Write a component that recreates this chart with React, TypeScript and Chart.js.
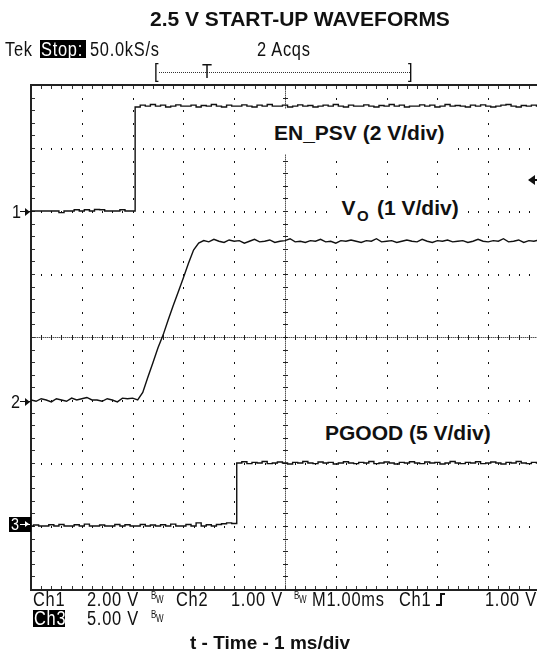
import React, { useEffect, useRef } from "react";
import { Chart, registerables } from "chart.js";

Chart.register(...registerables);

// ---- data -------------------------------------------------------------
const TIME_MS = [0,0.1,0.2,0.3,0.4,0.5,0.6,0.7,0.8,0.9,1,1.1,1.2,1.3,1.4,1.5,1.6,1.7,1.8,1.9,2,2.1,2.2,2.3,2.4,2.5,2.6,2.7,2.8,2.9,3,3.1,3.2,3.3,3.4,3.5,3.6,3.7,3.8,3.9,4,4.1,4.2,4.3,4.4,4.5,4.6,4.7,4.8,4.9,5,5.1,5.2,5.3,5.4,5.5,5.6,5.7,5.8,5.9,6,6.1,6.2,6.3,6.4,6.5,6.6,6.7,6.8,6.9,7,7.1,7.2,7.3,7.4,7.5,7.6,7.7,7.8,7.9,8,8.1,8.2,8.3,8.4,8.5,8.6,8.7,8.8,8.9,9,9.1,9.2,9.3,9.4,9.5,9.6,9.7,9.8,9.9,10];

const EN_PSV_V = [
  0, 0, 0, 0, 0, 0, -0.05, 0, 0, 0.04, 0, 0.04, 0, 0.05, 0.04, 0, 0, 0, 0.04, 0, 0,
  3.30, 3.36, 3.33, 3.38, 3.33, 3.36, 3.30, 3.33, 3.37, 3.33, 3.33, 3.36, 3.30, 3.35, 3.33, 3.38, 3.33, 3.30, 3.36, 3.33,
  3.33, 3.37, 3.33, 3.30, 3.36, 3.33, 3.38, 3.33, 3.33, 3.36, 3.30, 3.33, 3.37, 3.33, 3.35, 3.30, 3.33, 3.36, 3.33, 3.38,
  3.33, 3.30, 3.36, 3.33, 3.33, 3.37, 3.33, 3.30, 3.35, 3.33, 3.38, 3.33, 3.36, 3.30, 3.33, 3.33, 3.37, 3.33, 3.36, 3.30,
  3.33, 3.38, 3.33, 3.35, 3.33, 3.30, 3.36, 3.33, 3.37, 3.33, 3.30, 3.33, 3.36, 3.38, 3.33, 3.30, 3.35, 3.33, 3.36, 3.33,
];

const VO_V = [
  0, -0.02, 0.02, 0, -0.03, 0.02, 0, -0.02, 0.03, 0, 0.02, 0.04, 0, 0, -0.02, 0.02, 0, -0.03, 0.03, 0.02, 0.03, 0,
  0.12, 0.36, 0.59, 0.83, 1.03, 1.27, 1.50, 1.72, 1.94, 2.17, 2.38, 2.49,
  2.53, 2.51, 2.55, 2.52, 2.50, 2.54, 2.52, 2.53, 2.49, 2.52,
  2.55, 2.51, 2.52, 2.54, 2.50, 2.52, 2.53, 2.56, 2.51, 2.52,
  2.50, 2.53, 2.52, 2.55, 2.51, 2.52, 2.49, 2.53, 2.52, 2.54,
  2.52, 2.50, 2.53, 2.52, 2.56, 2.51, 2.52, 2.53, 2.50, 2.52,
  2.54, 2.52, 2.51, 2.55, 2.52, 2.50, 2.53, 2.52, 2.54, 2.51,
  2.52, 2.53, 2.50, 2.52, 2.55, 2.52, 2.51, 2.53, 2.52, 2.56,
  2.51, 2.52, 2.54, 2.50, 2.53, 2.52, 2.54,
];

const PGOOD_V = [
  0, 0.08, 0, 0, 0.1, 0, 0.12, 0, 0, 0.1,
  0, 0.15, 0, 0, 0.08, 0, 0, 0.12, 0, 0.1,
  0, 0, 0.12, 0, 0.08, 0, 0.1, 0, 0.15, 0,
  0, 0.12, 0, 0.25, 0, 0.1, 0, 0.12, 0.18, 0.25,
  0.2,
  5.00, 5.10, 4.95, 5.05, 5.00, 5.12, 4.95, 5.00, 5.08, 5.00,
  4.92, 5.05, 5.00, 5.12, 5.00, 4.95, 5.08, 5.00, 5.05, 4.92,
  5.00, 5.10, 5.00, 4.95, 5.05, 5.00, 5.12, 4.95, 5.00, 5.08,
  5.00, 4.92, 5.05, 5.00, 5.10, 5.00, 4.95, 5.08, 5.00, 5.05,
  4.92, 5.00, 5.12, 5.00, 4.95, 5.05, 5.00, 5.10, 4.95, 5.00,
  5.08, 5.00, 4.92, 5.05, 5.00, 5.12, 5.00, 4.95, 5.05, 5.00,
];

// channel settings: volts per division and ground-marker offset (divisions from centre)
const CH_VOLTS_PER_DIV = [2, 1, 5];
const CH_OFFSET_DIV = [2, -1, -3];
const CH_STEPPED = ["middle", false, "middle"];

// graticule: 10 x 8 divisions, 5 minor ticks per division
const X_MIN = 0, X_MAX = 10, X_CENTER = 5;
const Y_MIN = -4, Y_MAX = 4;
const MINOR = 5;

// ---- graticule plugin (drawn through the chart's scales) --------------
const graticulePlugin = {
  id: "graticule",
  beforeDatasetsDraw(chart: any) {
    const { ctx, scales } = chart;
    const xs = scales.x, ys = scales.y;
    const px = (v: number) => Math.round(xs.getPixelForValue(v));
    const py = (v: number) => Math.round(ys.getPixelForValue(v));
    const L = px(X_MIN), R = px(X_MAX), T = py(Y_MAX), B = py(Y_MIN);
    ctx.save();
    // dotted division lines
    ctx.fillStyle = "#111";
    for (let d = X_MIN + 1; d < X_MAX; d++) {
      if (d === X_CENTER) continue;
      const X = px(d);
      for (let m = Y_MIN * MINOR + 1; m < Y_MAX * MINOR; m++) ctx.fillRect(X, py(m / MINOR), 1, 2);
    }
    for (let d = Y_MIN + 1; d < Y_MAX; d++) {
      if (d === 0) continue;
      const Y = py(d);
      for (let m = X_MIN * MINOR + 1; m < X_MAX * MINOR; m++) ctx.fillRect(px(m / MINOR), Y, 1, 2);
    }
    // centre cross
    const CY = py(0), CX = px(X_CENTER);
    ctx.fillStyle = "#a8a8a8";
    ctx.fillRect(L, CY, R - L, 1);
    ctx.fillRect(CX, T, 1, B - T);
    ctx.fillStyle = "#555";
    for (let X = L; X < R; X += 2) ctx.fillRect(X, CY, 1, 1);
    for (let Y = T; Y < B; Y += 2) ctx.fillRect(CX, Y, 1, 1);
    ctx.fillStyle = "#222";
    for (let m = X_MIN * MINOR + 1; m < X_MAX * MINOR; m++) ctx.fillRect(px(m / MINOR), CY - 2, 1, 5);
    for (let m = Y_MIN * MINOR + 1; m < Y_MAX * MINOR; m++) ctx.fillRect(CX - 2, py(m / MINOR), 5, 1);
    // border
    ctx.fillStyle = "#222";
    ctx.fillRect(L - 1, T - 1, R - L + 2, 2);
    ctx.fillRect(L - 1, B, R - L + 2, 2);
    ctx.fillRect(L - 1, T - 1, 2, B - T + 3);
    // border minor ticks
    ctx.fillStyle = "#333";
    for (let m = X_MIN * MINOR + 1; m < X_MAX * MINOR; m++) {
      const X = px(m / MINOR);
      ctx.fillRect(X, T + 1, 1, 3);
      ctx.fillRect(X, B - 3, 1, 3);
    }
    for (let m = Y_MIN * MINOR + 1; m < Y_MAX * MINOR; m++) ctx.fillRect(L + 1, py(m / MINOR), 3, 1);
    ctx.restore();
  },
};

// ---- text helpers -----------------------------------------------------
const SANS = '"Liberation Sans", Arial, Helvetica, sans-serif';

type TP = {
  x: number; b: number; size: number; bold?: boolean; sx?: number; ls?: number;
  color?: string; children: React.ReactNode;
};
function Txt({ x, b, size, bold, sx = 1, ls = 0, color = "#111", children }: TP) {
  return (
    <span
      style={{
        position: "absolute", left: x, top: b - 0.8465 * size, fontFamily: SANS,
        fontSize: size, lineHeight: `${size}px`, fontWeight: bold ? 700 : 400,
        whiteSpace: "pre", color, letterSpacing: ls,
        transform: sx !== 1 ? `scaleX(${sx})` : undefined, transformOrigin: "left top",
      }}
    >
      {children}
    </span>
  );
}
const Scope = (p: { x: number; b: number; color?: string; children: React.ReactNode }) => (
  <Txt x={p.x} b={p.b} size={20} sx={0.82} ls={0.9} color={p.color}>{p.children}</Txt>
);
const Box = ({ x, y, w, h, bg }: { x: number; y: number; w: number; h: number; bg: string }) => (
  <div style={{ position: "absolute", left: x, top: y, width: w, height: h, background: bg }} />
);
function Arrow({ x1, x2, y, color = "#111", left = false, head = 4, stem = 1.5 }: { x1: number; x2: number; y: number; color?: string; left?: boolean; head?: number; stem?: number }) {
  return (
    <>
      <div style={{ position: "absolute", left: x1, top: y - stem / 2, width: x2 - x1, height: stem, background: color }} />
      <div
        style={{
          position: "absolute", left: left ? x1 - 1 : x2 - head * 1.4, top: y - head, width: 0, height: 0,
          borderTop: `${head}px solid transparent`, borderBottom: `${head}px solid transparent`,
          ...(left ? { borderRight: `${head * 1.4}px solid ${color}` } : { borderLeft: `${head * 1.4}px solid ${color}` }),
        }}
      />
    </>
  );
}
const Bw = ({ x, b }: { x: number; b: number }) => (
  <>
    <Txt x={x} b={b - 7} size={10} sx={0.8}>B</Txt>
    <Txt x={x + 5} b={b - 3} size={10} sx={0.8}>W</Txt>
  </>
);

export default function App() {
  const ref = useRef<HTMLCanvasElement | null>(null);

  useEffect(() => {
    if (!ref.current) return;
    const series = [EN_PSV_V, VO_V, PGOOD_V];
    const chart = new Chart(ref.current, {
      type: "line",
      data: {
        datasets: series.map((vals, c) => ({
          label: ["EN_PSV", "VO", "PGOOD"][c],
          data: TIME_MS.map((t, i) => ({ x: t, y: CH_OFFSET_DIV[c] + vals[i] / CH_VOLTS_PER_DIV[c] })),
          borderColor: "#111",
          borderWidth: 1.4,
          pointRadius: 0,
          tension: 0,
          stepped: CH_STEPPED[c] as any,
        })),
      },
      options: {
        animation: false,
        responsive: false,
        devicePixelRatio: 1,
        layout: { padding: { left: 31, top: 85, right: 1, bottom: 67 } },
        scales: {
          x: { type: "linear", min: X_MIN, max: X_MAX, display: false },
          y: { type: "linear", min: Y_MIN, max: Y_MAX, display: false },
        },
        plugins: { legend: { display: false }, tooltip: { enabled: false }, title: { display: false } },
        events: [],
      },
      plugins: [graticulePlugin],
    });
    return () => chart.destroy();
  }, []);

  return (
    <div style={{ position: "absolute", left: 0, top: 0, width: 537, height: 656, overflow: "hidden", background: "#fff" }}>
      <canvas ref={ref} width={540} height={656} style={{ position: "absolute", left: 0, top: 0, width: 540, height: 656 }} />

      {/* title */}
      <Txt x={150} b={25.5} size={21} bold>2.5 V START-UP WAVEFORMS</Txt>

      {/* scope header */}
      <Scope x={5} b={56}>Tek</Scope>
      <Box x={40} y={40} w={46} h={18} bg="#000" />
      <Scope x={41} b={56} color="#fff">Stop:</Scope>
      <Scope x={90} b={56}>50.0kS/s</Scope>
      <Scope x={257} b={56}>2 Acqs</Scope>
      <div style={{ position: "absolute", left: 159, top: 72, width: 251, height: 0, borderTop: "1px dotted #333" }} />
      <Scope x={154} b={78}>[</Scope>
      <Scope x={408} b={78}>]</Scope>
      <Scope x={202} b={78}>T</Scope>

      {/* channel ground markers */}
      <Txt x={12} b={218} size={18} sx={0.9}>1</Txt>
      <Arrow x1={20} x2={31} y={211.5} />
      <Txt x={11} b={408} size={18} sx={0.9}>2</Txt>
      <Arrow x1={20} x2={31} y={401.5} />
      <Box x={9} y={517} w={22} h={15} bg="#000" />
      <Txt x={11} b={530.5} size={16} sx={0.9} color="#fff">3</Txt>
      <Arrow x1={20} x2={30} y={524.5} color="#fff" head={3.5} />
      {/* trigger level marker */}
      <Arrow x1={529} x2={537} y={180} left head={5} stem={2} />

      {/* trace labels */}
      <Box x={268} y={109} w={189} h={45} bg="#fff" />
      <Txt x={274} b={140} size={21} bold>EN_PSV (2 V/div)</Txt>
      <Box x={330} y={192} w={137} h={34} bg="#fff" />
      <Txt x={341.5} b={215} size={21} bold>V</Txt>
      <Txt x={357} b={221} size={15} bold>O</Txt>
      <Txt x={377} b={215} size={21} bold>(1 V/div)</Txt>
      <Box x={316} y={414} w={185} h={36} bg="#fff" />
      <Txt x={325} b={440} size={21} bold>PGOOD (5 V/div)</Txt>

      {/* readout */}
      <Scope x={33} b={606}>Ch1</Scope>
      <Scope x={87} b={606}>2.00 V</Scope>
      <Bw x={151} b={606} />
      <Scope x={176} b={606}>Ch2</Scope>
      <Scope x={231} b={606}>1.00 V</Scope>
      <Bw x={294} b={606} />
      <Scope x={312} b={606}>M1.00ms</Scope>
      <Scope x={399} b={606}>Ch1</Scope>
      <div style={{ position: "absolute", left: 436, top: 604, width: 4, height: 0, borderTop: "2px solid #111" }} />
      <div style={{ position: "absolute", left: 440, top: 593, width: 0, height: 13, borderLeft: "2px solid #111" }} />
      <div style={{ position: "absolute", left: 440, top: 593, width: 5, height: 0, borderTop: "2px solid #111" }} />
      <Scope x={485} b={606}>1.00 V</Scope>

      <Box x={33} y={610} w={32} h={17} bg="#000" />
      <Scope x={34} b={625} color="#fff">Ch3</Scope>
      <Scope x={87} b={625}>5.00 V</Scope>
      <Bw x={151} b={625} />

      <Txt x={190} b={649} size={19} bold>t - Time - 1 ms/div</Txt>
    </div>
  );
}
